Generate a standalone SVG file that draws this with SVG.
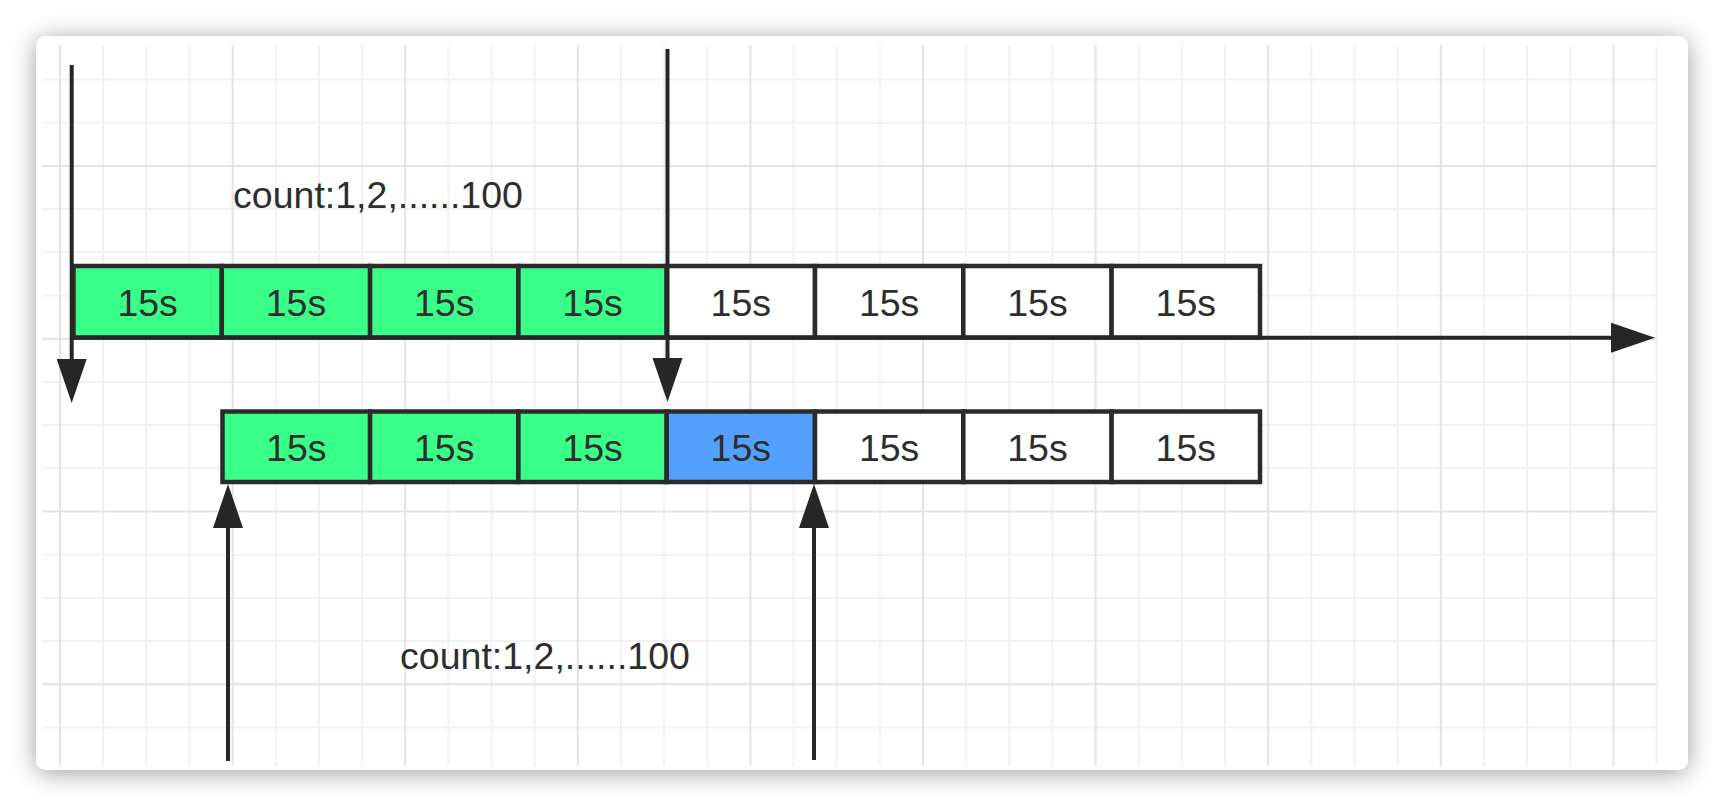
<svg xmlns="http://www.w3.org/2000/svg" width="1724" height="806" viewBox="0 0 1724 806">
<style>
.box{stroke:#2b2b2b;stroke-width:4.5}
.g{fill:#39ff89}
.w{fill:#ffffff}
.b{fill:#54a0ff}
.lbl{font-family:"Liberation Sans",Arial,sans-serif;font-size:37.5px;fill:#2e2e2e;text-anchor:middle}
.conn{stroke:#262626;stroke-width:4;fill:none}
.minor{stroke:#f1f1f1;stroke-width:2;fill:none}
.major{stroke:#e3e3e3;stroke-width:2;fill:none}
</style>
<defs>
<filter id="sh" x="-5%" y="-10%" width="110%" height="120%">
<feDropShadow dx="0" dy="3" stdDeviation="12" flood-color="#000000" flood-opacity="0.38"/>
</filter>
<marker id="ah" markerUnits="userSpaceOnUse" markerWidth="46" markerHeight="30" refX="1" refY="15" orient="auto" viewBox="0 0 46 30">
<path d="M0,0 L44,15 L0,30 z" fill="#262626"/>
</marker>
</defs>
<rect width="1724" height="806" fill="#ffffff"/>
<rect x="36" y="36" width="1652" height="734" rx="10" fill="#ffffff" filter="url(#sh)"/>
<g id="grid">
<path class="minor" d="M103.15,45V766M146.3,45V766M189.45,45V766M275.75,45V766M318.9,45V766M362.05,45V766M448.35,45V766M491.5,45V766M534.65,45V766M620.95,45V766M664.1,45V766M707.25,45V766M793.55,45V766M836.7,45V766M879.85,45V766M966.15,45V766M1009.3,45V766M1052.45,45V766M1138.75,45V766M1181.9,45V766M1225.05,45V766M1311.35,45V766M1354.5,45V766M1397.65,45V766M1483.95,45V766M1527.1,45V766M1570.25,45V766M1656.55,45V766
M42,79.5H1657M42,122.7H1657M42,209.1H1657M42,252.3H1657M42,295.5H1657M42,381.9H1657M42,425.1H1657M42,468.3H1657M42,554.7H1657M42,597.9H1657M42,641.1H1657M42,727.5H1657"/>
<path class="major" d="M60,45V766M232.6,45V766M405.2,45V766M577.8,45V766M750.4,45V766M923,45V766M1095.6,45V766M1268.2,45V766M1440.8,45V766M1613.4,45V766
M42,165.9H1657M42,338.7H1657M42,511.5H1657M42,684.3H1657"/>
</g>
<g id="row1">
<g id="r1c1"><rect class="box g" x="73.5" y="266" width="148.3" height="71.5"/><text class="lbl" x="147.65" y="315.8">15s</text></g>
<g id="r1c2"><rect class="box g" x="221.8" y="266" width="148.3" height="71.5"/><text class="lbl" x="295.95" y="315.8">15s</text></g>
<g id="r1c3"><rect class="box g" x="370.1" y="266" width="148.3" height="71.5"/><text class="lbl" x="444.25" y="315.8">15s</text></g>
<g id="r1c4"><rect class="box g" x="518.4" y="266" width="148.3" height="71.5"/><text class="lbl" x="592.55" y="315.8">15s</text></g>
<g id="r1c5"><rect class="box w" x="666.7" y="266" width="148.3" height="71.5"/><text class="lbl" x="740.85" y="315.8">15s</text></g>
<g id="r1c6"><rect class="box w" x="815" y="266" width="148.3" height="71.5"/><text class="lbl" x="889.15" y="315.8">15s</text></g>
<g id="r1c7"><rect class="box w" x="963.3" y="266" width="148.3" height="71.5"/><text class="lbl" x="1037.45" y="315.8">15s</text></g>
<g id="r1c8"><rect class="box w" x="1111.6" y="266" width="148.4" height="71.5"/><text class="lbl" x="1185.8" y="315.8">15s</text></g>
</g>
<g id="row2">
<g id="r2c1"><rect class="box g" x="222.5" y="411.5" width="147.6" height="70.5"/><text class="lbl" x="296.3" y="460.8">15s</text></g>
<g id="r2c2"><rect class="box g" x="370.1" y="411.5" width="148.3" height="70.5"/><text class="lbl" x="444.25" y="460.8">15s</text></g>
<g id="r2c3"><rect class="box g" x="518.4" y="411.5" width="148.3" height="70.5"/><text class="lbl" x="592.55" y="460.8">15s</text></g>
<g id="r2c4"><rect class="box b" x="666.7" y="411.5" width="148.3" height="70.5"/><text class="lbl" x="740.85" y="460.8">15s</text></g>
<g id="r2c5"><rect class="box w" x="815" y="411.5" width="148.3" height="70.5"/><text class="lbl" x="889.15" y="460.8">15s</text></g>
<g id="r2c6"><rect class="box w" x="963.3" y="411.5" width="148.3" height="70.5"/><text class="lbl" x="1037.45" y="460.8">15s</text></g>
<g id="r2c7"><rect class="box w" x="1111.6" y="411.5" width="148.4" height="70.5"/><text class="lbl" x="1185.8" y="460.8">15s</text></g>
</g>
<g id="labels">
<text id="count-top" class="lbl" x="378" y="207.5">count:1,2,......100</text>
<text id="count-bottom" class="lbl" x="545" y="668.5">count:1,2,......100</text>
</g>
<g id="connectors">
<path class="conn" d="M71.7,65V360" marker-end="url(#ah)"/>
<path class="conn" d="M667.5,49V359" marker-end="url(#ah)"/>
<path class="conn" d="M73.5,337.7H1612" marker-end="url(#ah)"/>
<path class="conn" d="M228,761V527" marker-end="url(#ah)"/>
<path class="conn" d="M814,760V527" marker-end="url(#ah)"/>
</g>
</svg>
